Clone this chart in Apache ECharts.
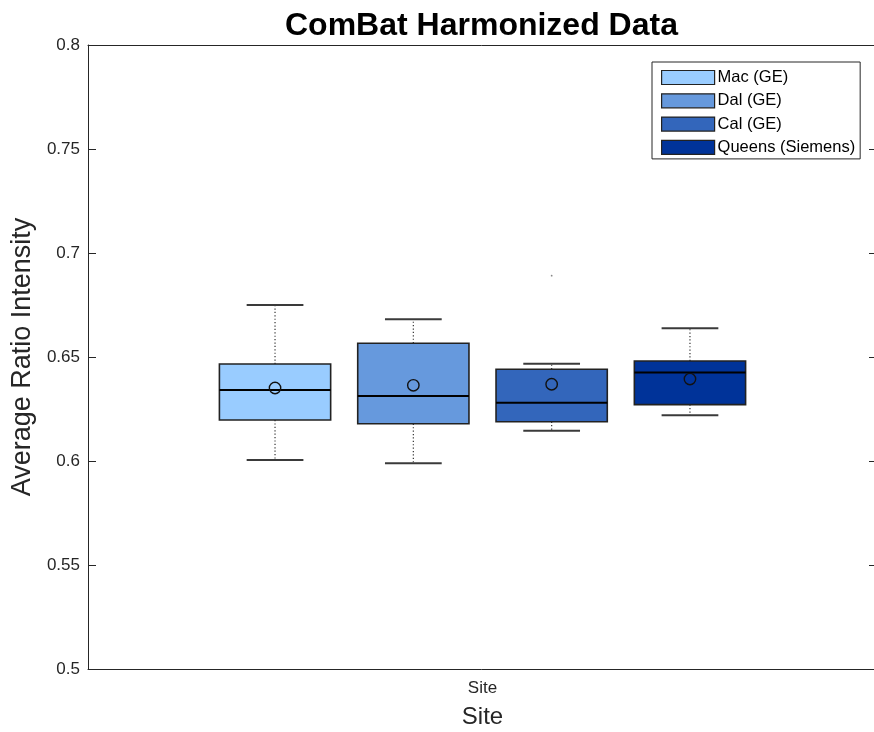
<!DOCTYPE html>
<html>
<head>
<meta charset="utf-8">
<script src="https://cdn.jsdelivr.net/npm/echarts@6/dist/echarts.min.js"></script>
<style>
  html, body { margin: 0; padding: 0; background: #fff; }
  #chart { width: 874px; height: 732px; }
</style>
</head>
<body>
<div id="chart"></div>
<script>
// Group label on the x axis
const categories = ['Site'];
// One box per scanner site
const siteNames = ['Mac (GE)', 'Dal (GE)', 'Cal (GE)', 'Queens (Siemens)'];
const siteColors = ['#99CCFF', '#6699DD', '#3366BB', '#003399'];
// Box statistics per site
const lowerWhisker = [0.6005, 0.5989, 0.6146, 0.6220];
const quartile1    = [0.6197, 0.6179, 0.6189, 0.6271];
const medians      = [0.6341, 0.6312, 0.6280, 0.6426];
const quartile3    = [0.6466, 0.6566, 0.6441, 0.6481];
const upperWhisker = [0.6750, 0.6681, 0.6468, 0.6638];
const means        = [0.6351, 0.6364, 0.6369, 0.6394];
const outliers     = [[], [], [0.6891], []];
// Y axis ticks
const yTicks = [0.5, 0.55, 0.6, 0.65, 0.7, 0.75, 0.8];

const FONT = '"Liberation Sans", Arial, Helvetica, sans-serif';
const AXIS_COLOR = '#262626';
const GROUP_STEP = 0.1753; // spacing between box centres, fraction of band
const BOX_FRAC = 0.141;    // box width, fraction of band

function renderBox(params, api) {
  const si = params.seriesIndex;
  const cat = api.value(0);
  const center = api.coord([cat, yTicks[0]])[0];
  const band = api.size([1, 0])[0];
  const cx = center + (si - (siteNames.length - 1) / 2) * band * GROUP_STEP;
  const half = band * BOX_FRAC / 2;
  const capHalf = half * 0.51;
  const y = v => api.coord([cat, v])[1];
  const yLo = y(api.value(1)), yQ1 = y(api.value(2)), yMed = y(api.value(3));
  const yQ3 = y(api.value(4)), yHi = y(api.value(5)), yMean = y(api.value(6));
  const dotted = { stroke: '#333', lineWidth: 1.2, lineDash: [1.2, 2.2], fill: null };
  const cap = { stroke: '#3a3a3a', lineWidth: 2, fill: null };
  const children = [
    { type: 'line', shape: { x1: cx, y1: yQ3, x2: cx, y2: yHi }, style: dotted },
    { type: 'line', shape: { x1: cx, y1: yQ1, x2: cx, y2: yLo }, style: dotted },
    { type: 'line', shape: { x1: cx - capHalf, y1: yHi, x2: cx + capHalf, y2: yHi }, style: cap },
    { type: 'line', shape: { x1: cx - capHalf, y1: yLo, x2: cx + capHalf, y2: yLo }, style: cap },
    { type: 'rect', shape: { x: cx - half, y: yQ3, width: half * 2, height: yQ1 - yQ3 },
      style: { fill: siteColors[si], stroke: '#222', lineWidth: 1.6 } },
    { type: 'line', shape: { x1: cx - half, y1: yMed, x2: cx + half, y2: yMed },
      style: { stroke: '#000', lineWidth: 2 } },
    { type: 'circle', shape: { cx: cx, cy: yMean, r: 5.7 },
      style: { fill: null, stroke: '#111', lineWidth: 1.4 } }
  ];
  outliers[si].forEach(v => {
    children.push({ type: 'circle', shape: { cx: cx, cy: y(v), r: 0.9 },
      style: { fill: '#888', stroke: null } });
  });
  return { type: 'group', children: children };
}

const series = siteNames.map((name, i) => ({
  name: name,
  type: 'custom',
  xAxisIndex: 0,
  yAxisIndex: 0,
  itemStyle: { color: siteColors[i] },
  encode: { x: 0, y: [1, 2, 3, 4, 5, 6] },
  data: [[categories[0], lowerWhisker[i], quartile1[i], medians[i], quartile3[i], upperWhisker[i], means[i]]],
  renderItem: renderBox,
  clip: false,
  z: 3
}));

const yLabelFmt = v => {
  const t = yTicks.find(k => Math.abs(k - v) < 1e-9);
  return t === undefined ? '' : String(t);
};

const option = {
  animation: false,
  color: siteColors,
  title: {
    text: 'ComBat Harmonized Data',
    left: 280, top: 5,
    textStyle: { fontFamily: FONT, fontWeight: 'bold', fontSize: 32, color: '#000' }
  },
  legend: {
    orient: 'vertical',
    left: 652, top: 62,
    padding: [7, 5, 3, 9],
    itemGap: 6.3,
    itemWidth: 53, itemHeight: 14,
    icon: 'rect',
    backgroundColor: '#fff',
    borderColor: AXIS_COLOR, borderWidth: 1,
    itemStyle: { borderColor: '#222', borderWidth: 1.2 },
    textStyle: { fontFamily: FONT, fontSize: 16.5, color: '#000', padding: [0, 0, 0, -2] },
    data: siteNames
  },
  grid: { left: 88, top: 45, width: 789, height: 624, outerBoundsMode: 'none', containLabel: false },
  xAxis: [
    {
      type: 'category', data: categories, position: 'bottom',
      name: 'Site', nameLocation: 'middle', nameGap: 36,
      nameTextStyle: { fontFamily: FONT, fontSize: 24, color: '#262626' },
      axisLine: { lineStyle: { color: AXIS_COLOR, width: 1 } },
      axisTick: { inside: true, length: 8, alignWithLabel: true, lineStyle: { color: AXIS_COLOR } },
      axisLabel: { fontFamily: FONT, fontSize: 17, color: '#262626', margin: 11 },
      splitLine: { show: false }
    },
    {
      type: 'category', data: categories, position: 'top',
      axisLine: { lineStyle: { color: AXIS_COLOR, width: 1 } },
      axisTick: { inside: true, length: 8, alignWithLabel: true, lineStyle: { color: AXIS_COLOR } },
      axisLabel: { show: false },
      splitLine: { show: false }
    }
  ],
  yAxis: [
    {
      type: 'value', min: 0.5, max: 0.8, interval: 0.05, position: 'left',
      name: 'Average Ratio Intensity', nameLocation: 'middle', nameGap: 48,
      nameTextStyle: { fontFamily: FONT, fontSize: 27, color: '#262626' },
      axisLine: { show: true, lineStyle: { color: AXIS_COLOR, width: 1 } },
      axisTick: { show: true, inside: true, length: 8, lineStyle: { color: AXIS_COLOR } },
      axisLabel: { fontFamily: FONT, fontSize: 17, color: '#262626', margin: 8, formatter: yLabelFmt },
      splitLine: { show: false }
    },
    {
      type: 'value', min: 0.5, max: 0.8, interval: 0.05, position: 'right',
      axisLine: { show: true, lineStyle: { color: AXIS_COLOR, width: 1 } },
      axisTick: { show: true, inside: true, length: 8, lineStyle: { color: AXIS_COLOR } },
      axisLabel: { show: false },
      splitLine: { show: false }
    }
  ],
  series: series
};

const chart = echarts.init(document.getElementById('chart'), null, { renderer: 'canvas' });
chart.setOption(option);
</script>
</body>
</html>
